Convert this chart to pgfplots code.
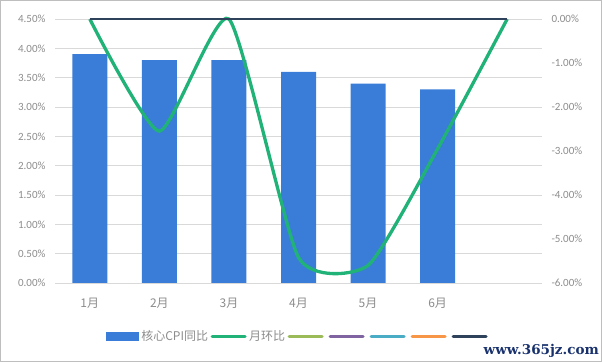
\documentclass[border=0pt]{standalone}
\usepackage{pgfplots}
\pgfplotsset{compat=1.18}
\usepackage{fontspec}
\setmainfont{Carlito}
\newfontfamily\cjk{Noto Sans CJK SC}
\newfontfamily\wmfont{DejaVu Serif}
\definecolor{barblue}{RGB}{58,125,216}
\definecolor{lgreen}{RGB}{33,178,120}
\definecolor{olive}{RGB}{155,187,89}
\definecolor{purp}{RGB}{128,100,162}
\definecolor{aqua}{RGB}{75,172,198}
\definecolor{orng}{RGB}{247,150,70}
\definecolor{navy}{RGB}{46,66,92}
\definecolor{gridgray}{RGB}{217,217,217}
\definecolor{labelgray}{RGB}{140,140,140}
\definecolor{framegray}{RGB}{190,190,190}
\definecolor{wmblue}{RGB}{25,50,110}
\pgfplotsset{
  lineleg/.style={legend image code/.code={%
    \path[draw=none,fill=none] (0bp,-4bp) rectangle (36bp,4bp);
    \draw[line width=3bp, line cap=round] (1.5bp,0) -- (34.5bp,0);}}
}
\begin{document}
\begin{tikzpicture}
\path[use as bounding box] (0,0) rectangle (602bp,362bp);
\draw[color=framegray, line width=1bp] (0.5bp,0.5bp) rectangle (601.5bp,361.5bp);
\begin{axis}[
  at={(55bp,79bp)}, anchor=south west,
  scale only axis, width=487bp, height=264bp,
  xmin=0.5, xmax=7.5, ymin=0, ymax=4.5,
  axis line style={draw=none},
  major tick length=0pt,
  ymajorgrids, grid style={color=gridgray, line width=0.8bp},
  xtick={1,2,3,4,5,6},
  xticklabels={1月,2月,3月,4月,5月,6月},
  xticklabel style={font=\cjk\fontsize{12bp}{14bp}\selectfont, text=labelgray, yshift=-12bp},
  ytick={0,0.5,1,1.5,2,2.5,3,3.5,4,4.5},
  /pgf/number format/assume math mode=true,
  yticklabel={\pgfmathprintnumber[fixed,fixed zerofill,precision=2]{\tick}\%},
  yticklabel style={font=\fontsize{11bp}{13bp}\selectfont, text=labelgray, xshift=-6bp},
  ybar, bar width=35bp,
]
\addplot[fill=barblue, draw=none] coordinates {(1,3.9) (2,3.8) (3,3.8) (4,3.6) (5,3.4) (6,3.3)};
\end{axis}
\begin{axis}[
  at={(55bp,79bp)}, anchor=south west,
  scale only axis, width=487bp, height=264bp,
  xmin=0.5, xmax=7.5, ymin=-6, ymax=0,
  clip=false,
  axis line style={draw=none},
  major tick length=0pt,
  xtick=\empty,
  yticklabel pos=right,
  ytick={-6,-5,-4,-3,-2,-1,0},
  /pgf/number format/assume math mode=true,
  yticklabel={\pgfmathprintnumber[fixed,fixed zerofill,precision=2]{\tick}\%},
  yticklabel style={font=\fontsize{11bp}{13bp}\selectfont, text=labelgray, xshift=6bp},
  legend columns=-1,
  legend style={at={(0.502,-0.2008)}, anchor=center, draw=none, fill=none,
    inner sep=0pt, column sep=0pt,
    nodes={inner xsep=2.5bp, inner ysep=0pt, text=labelgray},
    font=\cjk\fontsize{12bp}{14bp}\selectfont},
]
\addlegendimage{legend image code/.code={\fill[barblue] (0bp,-4bp) rectangle (32bp,4bp);}}
\addlegendentry{核心CPI同比}
\addplot[lgreen, line width=3.3bp, smooth, tension=0.33, mark=none, lineleg]
  coordinates {(1,0) (2,-2.55) (3,0) (4,-5.42) (5,-5.6) (6,-2.95) (7,0)};
\addlegendentry{月环比}
\addplot[olive, line width=2bp, mark=none, lineleg]
  coordinates {(1,0) (2,0) (3,0) (4,0) (5,0) (6,0) (7,0)};
\addlegendentry{}
\addplot[purp, line width=2bp, mark=none, lineleg]
  coordinates {(1,0) (2,0) (3,0) (4,0) (5,0) (6,0) (7,0)};
\addlegendentry{}
\addplot[aqua, line width=2bp, mark=none, lineleg]
  coordinates {(1,0) (2,0) (3,0) (4,0) (5,0) (6,0) (7,0)};
\addlegendentry{}
\addplot[orng, line width=2bp, mark=none, lineleg]
  coordinates {(1,0) (2,0) (3,0) (4,0) (5,0) (6,0) (7,0)};
\addlegendentry{}
\addplot[navy, line width=2bp, mark=none, lineleg]
  coordinates {(1,0) (2,0) (3,0) (4,0) (5,0) (6,0) (7,0)};
\addlegendentry{}
\end{axis}
\node[anchor=base east, text=wmblue, inner sep=0pt,
  font=\wmfont\bfseries\fontsize{13.5bp}{15bp}\selectfont] at (599bp,8bp) {www.365jz.com};
\end{tikzpicture}
\end{document}
